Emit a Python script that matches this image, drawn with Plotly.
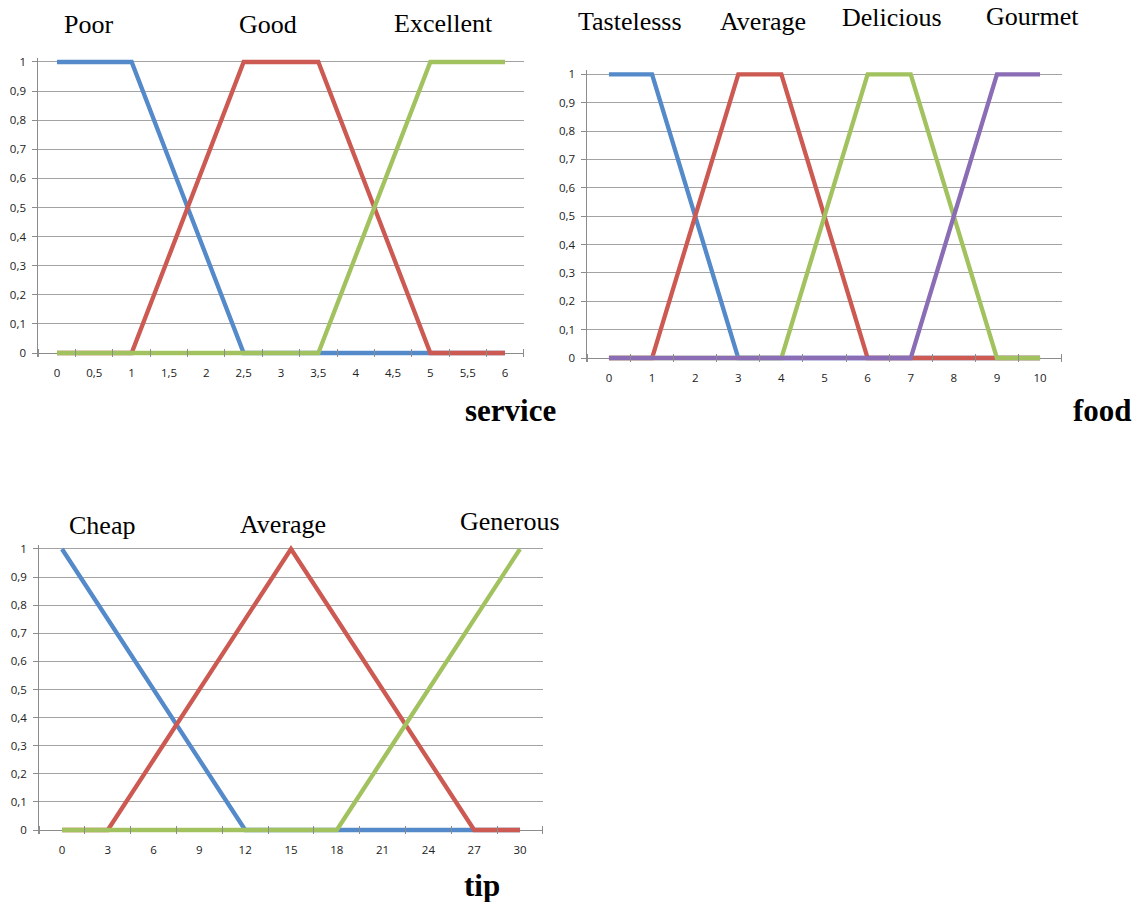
import plotly.graph_objects as go

# ---------------- data ----------------
service_cats = ["0", "0,5", "1", "1,5", "2", "2,5", "3", "3,5", "4", "4,5", "5", "5,5", "6"]
service_poor = [1, 1, 1, 0.667, 0.333, 0, 0, 0, 0, 0, 0, 0, 0]
service_good = [0, 0, 0, 0.333, 0.667, 1, 1, 1, 0.667, 0.333, 0, 0, 0]
service_excellent = [0, 0, 0, 0, 0, 0, 0, 0, 0.333, 0.667, 1, 1, 1]

food_cats = ["0", "1", "2", "3", "4", "5", "6", "7", "8", "9", "10"]
food_tasteless = [1, 1, 0.5, 0, 0, 0, 0, 0, 0, 0, 0]
food_average = [0, 0, 0.5, 1, 1, 0.5, 0, 0, 0, 0, 0]
food_delicious = [0, 0, 0, 0, 0, 0.5, 1, 1, 0.5, 0, 0]
food_gourmet = [0, 0, 0, 0, 0, 0, 0, 0, 0.5, 1, 1]

tip_cats = ["0", "3", "6", "9", "12", "15", "18", "21", "24", "27", "30"]
tip_cheap = [1, 0.75, 0.5, 0.25, 0, 0, 0, 0, 0, 0, 0]
tip_average = [0, 0, 0.25, 0.5, 0.75, 1, 0.75, 0.5, 0.25, 0, 0]
tip_generous = [0, 0, 0, 0, 0, 0, 0, 0.25, 0.5, 0.75, 1]

y_ticks = [0, 0.1, 0.2, 0.3, 0.4, 0.5, 0.6, 0.7, 0.8, 0.9, 1]
y_ticktext = ["0", "0,1", "0,2", "0,3", "0,4", "0,5", "0,6", "0,7", "0,8", "0,9", "1"]

service_labels = ["Poor", "Good", "Excellent"]
food_labels = ["Tastelesss", "Average", "Delicious", "Gourmet"]
tip_labels = ["Cheap", "Average", "Generous"]

# ---------------- style ----------------
W, H = 1135, 902
BLUE, RED, GREEN, PURPLE = "#5489CA", "#CC5A52", "#A2C25F", "#8A6DB5"
GRID = "#a3a3a3"
AXIS = "#8c8c8c"
PAD = 0.015


def px(x):
    return x / W


def py(y):
    return 1 - y / H


fig = go.Figure()

panels = [
    ("", service_cats, [service_poor, service_good, service_excellent],
     [BLUE, RED, GREEN], 38.3, 523.7, 62, 353),
    ("2", food_cats, [food_tasteless, food_average, food_delicious, food_gourmet],
     [BLUE, RED, GREEN, PURPLE], 587.4, 1061.6, 74.3, 358),
    ("3", tip_cats, [tip_cheap, tip_average, tip_generous],
     [BLUE, RED, GREEN], 39.1, 542.9, 549, 830),
]

for suf, cats, series, colors, xl, xr, y1, y0 in panels:
    n = len(cats)
    idx = list(range(n))
    for vals, col in zip(series, colors):
        fig.add_trace(go.Scatter(
            x=idx, y=vals, mode="lines",
            line=dict(color=col, width=4.3),
            xaxis="x" + suf, yaxis="y" + suf, showlegend=False,
            hoverinfo="skip",
        ))
    unit = y0 - y1
    top = y1 - PAD * unit
    bot = y0 + PAD * unit
    fig.layout["xaxis" + suf] = dict(
        domain=[px(xl), px(xr)],
        anchor="y" + suf,
        range=[-0.5, n - 0.5],
        tickmode="array", tickvals=idx, ticktext=cats,
        ticks="", showline=False, showgrid=False, zeroline=False,
        tickfont=dict(family="Open Sans", size=11.5, color="#222"),
        ticklabelstandoff=7,
        minor=dict(tick0=-0.5, dtick=1, ticks="inside", ticklen=8.5,
                   tickcolor=AXIS, tickwidth=1, showgrid=False),
        automargin=False,
        fixedrange=True,
    )
    fig.layout["yaxis" + suf] = dict(
        domain=[py(bot), py(top)],
        anchor="x" + suf,
        range=[-PAD, 1 + PAD],
        tickmode="array", tickvals=y_ticks, ticktext=y_ticktext,
        ticks="outside", ticklen=5, tickcolor=AXIS, tickwidth=1,
        showline=True, linecolor=AXIS, linewidth=1,
        showgrid=True, gridcolor=GRID, gridwidth=1,
        zeroline=True, zerolinecolor=AXIS, zerolinewidth=1,
        tickfont=dict(family="Open Sans", size=11.5, color="#222"),
        ticklabelstandoff=4,
        automargin=False,
        fixedrange=True,
    )

label_font = dict(family="Liberation Serif", size=26, color="#000")
anns = []
for labels, centers in [
    (service_labels, [(89, 24), (268, 24), (443, 23)]),
    (food_labels, [(630, 21), (763, 21), (892, 18), (1032, 17)]),
    (tip_labels, [(102, 525), (283, 524), (510, 521)]),
]:
    for text, (cx, cy) in zip(labels, centers):
        anns.append(dict(text=text, x=px(cx), y=py(cy), xref="paper", yref="paper",
                         showarrow=False, xanchor="center", yanchor="middle",
                         font=label_font))

for text, (cx, cy) in zip(["<b>service</b>", "<b>food</b>", "<b>tip</b>"],
                          [(510, 410), (1102, 410), (482, 885)]):
    anns.append(dict(text=text, x=px(cx), y=py(cy), xref="paper", yref="paper",
                     showarrow=False, xanchor="center", yanchor="middle",
                     font=dict(family="Liberation Serif", size=31, color="#000")))

fig.update_layout(
    width=W, height=H,
    margin=dict(l=0, r=0, t=0, b=0, pad=0),
    paper_bgcolor="white", plot_bgcolor="white",
    annotations=anns,
    showlegend=False,
)

fig.write_html(
    "out.html",
    config={"displayModeBar": False},
    post_script="document.body.style.margin='0';document.body.style.overflow='hidden';",
)
